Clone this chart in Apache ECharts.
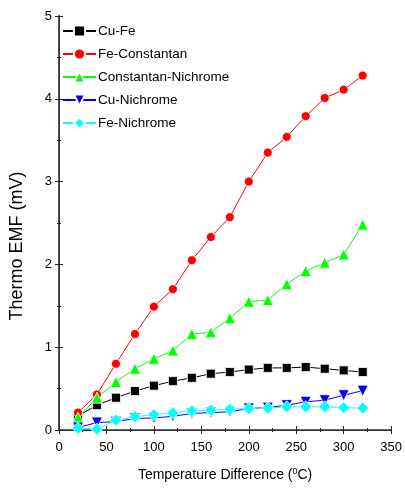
<!DOCTYPE html>
<html><head><meta charset="utf-8">
<script src="https://cdn.jsdelivr.net/npm/echarts@6/dist/echarts.min.js"></script>
<style>html,body{margin:0;padding:0;background:#fff}#c{width:405px;height:489px}</style>
</head><body><div id="c"></div>
<script>
var temps = [20,40,60,80,100,120,140,160,180,200,220,240,260,280,300,320];
var cuFe = [0.17,0.30,0.39,0.47,0.535,0.59,0.63,0.68,0.70,0.73,0.75,0.75,0.76,0.74,0.72,0.70];
var feConstantan = [0.21,0.43,0.80,1.16,1.49,1.70,2.05,2.33,2.57,3.00,3.35,3.54,3.79,4.01,4.11,4.28];
var constantanNichrome = [0.15,0.39,0.58,0.74,0.86,0.96,1.16,1.18,1.35,1.55,1.57,1.76,1.92,2.02,2.12,2.48];
var cuNichrome = [0.03,0.09,0.10,0.14,0.145,0.165,0.20,0.21,0.22,0.26,0.27,0.30,0.34,0.36,0.42,0.475];
var feNichrome = [0.02,0.01,0.12,0.16,0.185,0.205,0.23,0.24,0.25,0.26,0.265,0.28,0.28,0.28,0.27,0.265];
var seriesNames = ['Cu-Fe','Fe-Constantan','Constantan-Nichrome','Cu-Nichrome','Fe-Nichrome'];

function pairs(v){ return temps.map(function(t,i){ return [t, v[i]]; }); }
var FONT = '"Liberation Sans", Arial, sans-serif';
var chart = echarts.init(document.getElementById('c'), null, {renderer:'canvas'});
function mk(name, data, color, symbol, size, rot){
  return {name:name, type:'line', data:pairs(data), symbol:symbol, symbolSize:size, symbolRotate:rot||0,
    itemStyle:{color:color, borderColor:'#fff', borderWidth:0.8},
    lineStyle:{color:color, width:1}, emphasis:{disabled:true}, animation:false};
}
var tickStyle = {show:true, inside:true, length:4, lineStyle:{color:'#222'}};
var minor = {show:true, splitNumber:2, length:2, lineStyle:{color:'#222'}};
chart.setOption({
  animation:false,
  grid:{left:57, right:6, top:16, bottom:59, containLabel:false},
  legend:{orient:'vertical', left:57, top:19, itemWidth:33, itemHeight:14, itemGap:9,
    data:seriesNames, textStyle:{fontFamily:FONT, fontSize:13.5, color:'#000', padding:[0,0,0,-3]}},
  xAxis:[{type:'value', min:0, max:350, interval:50, position:'bottom',
    axisLine:{show:true, lineStyle:{color:'#333', width:1.5}}, axisTick:tickStyle, minorTick:minor,
    splitLine:{show:false},
    axisLabel:{fontFamily:FONT, fontSize:13, color:'#000', margin:11},
    name:'{a|Temperature Difference (}{s|0}{a|C)}', nameLocation:'middle', nameGap:37,
    nameTextStyle:{rich:{a:{fontFamily:FONT, fontSize:14, color:'#000'}, s:{fontFamily:FONT, fontSize:9, color:'#000', verticalAlign:'top', padding:[0,0,8,0]}}}
  },{type:'value', min:0, max:350, interval:50, position:'top',
    axisLine:{show:true, lineStyle:{color:'#333', width:1}}, axisTick:tickStyle, minorTick:minor,
    splitLine:{show:false}, axisLabel:{show:false}}],
  yAxis:[{type:'value', min:0, max:5, interval:1, position:'left',
    axisLine:{show:true, lineStyle:{color:'#555', width:2}}, axisTick:tickStyle, minorTick:minor,
    splitLine:{show:false},
    axisLabel:{fontFamily:FONT, fontSize:13, color:'#000', margin:7},
    name:'Thermo EMF (mV)', nameLocation:'middle', nameGap:33,
    nameTextStyle:{fontFamily:FONT, fontSize:18, color:'#000', padding:[0,0,0,-46]}
  },{type:'value', min:0, max:5, interval:1, position:'right',
    axisLine:{show:true, lineStyle:{color:'#333', width:1}}, axisTick:tickStyle, minorTick:minor,
    splitLine:{show:false}, axisLabel:{show:false}}],
  series:[
    mk('Cu-Fe', cuFe, '#000000', 'rect', 9),
    mk('Fe-Constantan', feConstantan, '#ff0000', 'circle', 9),
    mk('Constantan-Nichrome', constantanNichrome, '#00ff00', 'triangle', 11),
    mk('Cu-Nichrome', cuNichrome, '#0000ff', 'triangle', 11, 180),
    mk('Fe-Nichrome', feNichrome, '#00ffff', 'diamond', 12)
  ]
});
</script></body></html>
